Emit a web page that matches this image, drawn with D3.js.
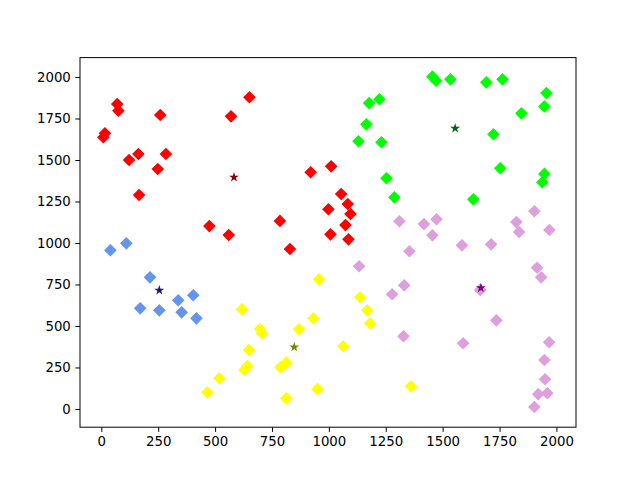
<!DOCTYPE html>
<html>
<head>
<meta charset="utf-8">
<script src="https://cdn.jsdelivr.net/npm/d3@7"></script>
<style>
  body { margin: 0; background: #fff; }
  svg { display: block; }
  .tick text { font-family: "DejaVu Sans", sans-serif; font-size: 13.3px; fill: #000; }
</style>
</head>
<body>
<svg id="chart" width="640" height="480"></svg>
<script>
// cluster points [x, y]
var redPts = [[9,1637],[16,1661],[70,1837],[75,1797],[259,1771],[570,1763],[651,1878],
  [122,1500],[163,1536],[284,1536],[248,1446],[166,1289],[475,1102],[560,1048],
  [785,1133],[920,1426],[829,964],[1010,1462],[1054,1295],[1083,1235],[998,1203],
  [1095,1175],[1073,1108],[1007,1052],[1086,1022]];
var greenPts = [[1455,2002],[1471,1978],[1534,1986],[1692,1968],[1763,1986],[1956,1904],
  [1947,1823],[1846,1781],[1177,1843],[1222,1866],[1165,1715],[1130,1613],[1231,1607],
  [1723,1655],[1753,1450],[1947,1416],[1938,1366],[1253,1390],[1288,1275],[1635,1263]];
var bluePts = [[40,956],[110,998],[214,793],[171,606],[255,594],[338,655],[353,582],
  [404,685],[418,546]];
var yellowPts = [[618,600],[698,482],[706,456],[649,355],[629,235],[642,259],[519,185],
  [466,100],[787,251],[813,279],[813,64],[869,480],[932,546],[957,781],[950,119],
  [1137,673],[1169,594],[1181,516],[1064,378],[1361,137]];
var pinkPts = [[1133,860],[1331,745],[1278,691],[1354,950],[1455,1046],[1585,986],
  [1713,992],[1836,1066],[1969,1078],[1915,851],[1933,793],[1665,717],[1736,534],
  [1328,438],[1590,396],[1968,402],[1947,295],[1950,179],[1920,89],[1960,95],[1903,12],
  [1310,1131],[1418,1114],[1473,1143],[1824,1126],[1903,1191]];

// centroids
var centers = [[583,1396],[1555,1691],[255,715],[848,373],[1668,729]];
var pointColors = ["#ff0000","#00ff00","#6495ed","#ffff00","#dda0dd"];
var starColors = ["#8b0000","#006400","#191970","#808000","#800080"];

var xTicks = [0,250,500,750,1000,1250,1500,1750,2000];
var yTicks = [0,250,500,750,1000,1250,1500,1750,2000];

var svg = d3.select("#chart");
var plotL = 80, plotR = 576, plotT = 57.6, plotB = 427.2;

var x = d3.scaleLinear().domain([-93.6, 2086]).range([plotL, plotR]);
var y = d3.scaleLinear().domain([-110, 2117]).range([plotB, plotT]);

var clusters = [redPts, greenPts, bluePts, yellowPts, pinkPts];
var diamond = d3.symbol().type(d3.symbolSquare).size(80);
var star = d3.symbol().type(d3.symbolStar).size(30);

var plot = svg.append("g");
clusters.forEach(function(pts, i){
  plot.selectAll("path.c" + i)
    .data(pts)
    .enter().append("path")
    .attr("class", "c" + i)
    .attr("d", diamond)
    .attr("fill", pointColors[i])
    .attr("transform", function(d){ return "translate(" + x(d[0]) + "," + y(d[1]) + ") rotate(45)"; });
});

plot.selectAll("path.star")
  .data(centers)
  .enter().append("path")
  .attr("class", "star")
  .attr("d", star)
  .attr("fill", function(d, i){ return starColors[i]; })
  .attr("transform", function(d){ return "translate(" + x(d[0]) + "," + y(d[1]) + ")"; });

// frame
svg.append("rect")
  .attr("x", plotL).attr("y", plotT)
  .attr("width", plotR - plotL).attr("height", plotB - plotT)
  .attr("fill", "none").attr("stroke", "#000").attr("stroke-width", 1);

var xAxis = svg.append("g")
  .attr("transform", "translate(0," + plotB + ")")
  .call(d3.axisBottom(x).tickValues(xTicks).tickSize(4.7).tickPadding(4.5).tickFormat(d3.format("d")));
var yAxis = svg.append("g")
  .attr("transform", "translate(" + plotL + ",0)")
  .call(d3.axisLeft(y).tickValues(yTicks).tickSize(4.7).tickPadding(4.5).tickFormat(d3.format("d")));
[xAxis, yAxis].forEach(function(a){
  a.select(".domain").remove();
  a.selectAll(".tick line").attr("stroke", "#000");
});
</script>
</body>
</html>
